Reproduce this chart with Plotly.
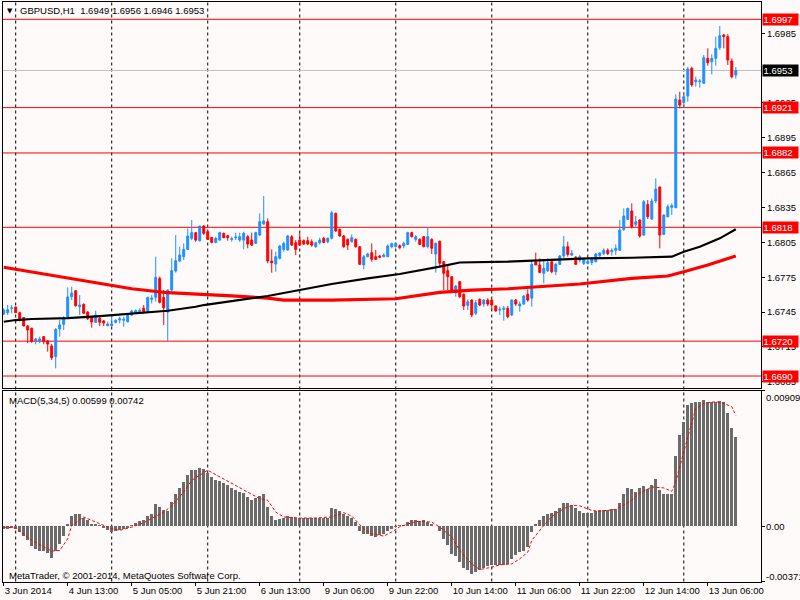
import plotly.graph_objects as go

# ---------------- data (GBPUSD H1, 3 Jun 21:00 .. 13 Jun 13:00) ----------------
opens = [1.67434,1.67445,1.67483,1.67494,1.67445,1.67403,1.67331,1.67311,1.67202,1.67202,
1.67239,1.67202,1.67158,1.67067,1.67305,1.67345,1.67402,1.67583,1.67634,1.67497,
1.67517,1.67450,1.67408,1.67362,1.67396,1.67374,1.67333,1.67333,1.67362,1.67382,
1.67379,1.67367,1.67425,1.67445,1.67450,1.67483,1.67454,1.67560,1.67577,1.67741,
1.67577,1.67450,1.67640,1.67804,1.67890,1.67927,1.67990,1.68085,1.68134,1.68065,
1.68191,1.68142,1.68093,1.68050,1.68070,1.68128,1.68108,1.68076,1.68091,1.68070,
1.68070,1.68099,1.68070,1.68042,1.68113,1.68208,1.68228,1.67890,1.67864,1.67913,
1.67990,1.67984,1.68099,1.68047,1.68070,1.68065,1.68065,1.68056,1.68013,1.68047,
1.68085,1.68056,1.68085,1.68300,1.68162,1.68105,1.68076,1.68056,1.68076,1.68013,
1.67856,1.67927,1.67962,1.67927,1.67933,1.67927,1.67927,1.68013,1.68013,1.68022,
1.68019,1.68033,1.68134,1.68076,1.68076,1.68099,1.68013,1.68076,1.67950,1.68060,
1.67884,1.67807,1.67755,1.67617,1.67712,1.67603,1.67508,1.67554,1.67440,1.67560,
1.67520,1.67554,1.67554,1.67503,1.67468,1.67474,1.67483,1.67425,1.67554,1.67503,
1.67520,1.67603,1.67569,1.67884,1.67856,1.67784,1.67804,1.67884,1.67798,1.67861,
1.67933,1.68013,1.67942,1.67922,1.67898,1.67870,1.67870,1.67878,1.67884,1.67936,
1.67953,1.67982,1.67970,1.67982,1.67982,1.68162,1.68248,1.68320,1.68205,1.68243,
1.68113,1.68377,1.68251,1.68406,1.68527,1.68119,1.68271,1.68352,1.68349,1.69275,
1.69255,1.69310,1.69548,1.69433,1.69433,1.69419,1.69634,1.69605,1.69634,1.69726,
1.69835,1.69821,1.69611,1.69490]

highs = [1.67483,1.67512,1.67512,1.67497,1.67454,1.67405,1.67339,1.67316,1.67230,1.67239,
1.67244,1.67210,1.67176,1.67311,1.67382,1.67416,1.67663,1.67669,1.67640,1.67597,
1.67525,1.67459,1.67411,1.67462,1.67416,1.67382,1.67368,1.67434,1.67390,1.67411,
1.67411,1.67434,1.67469,1.67473,1.67483,1.67512,1.67583,1.67597,1.67927,1.67755,
1.67640,1.67645,1.67913,1.68114,1.68013,1.68042,1.68171,1.68243,1.68134,1.68191,
1.68200,1.68162,1.68099,1.68099,1.68142,1.68134,1.68114,1.68099,1.68134,1.68134,
1.68142,1.68114,1.68134,1.68142,1.68300,1.68449,1.68257,1.67990,1.67970,1.68027,
1.68056,1.68114,1.68114,1.68070,1.68128,1.68076,1.68099,1.68076,1.68056,1.68091,
1.68099,1.68093,1.68323,1.68306,1.68171,1.68114,1.68085,1.68119,1.68085,1.68019,
1.67942,1.67962,1.68042,1.67985,1.67942,1.67956,1.68033,1.68048,1.68048,1.68033,
1.68056,1.68142,1.68142,1.68114,1.68085,1.68105,1.68180,1.68085,1.68048,1.68065,
1.67890,1.67856,1.67761,1.67683,1.67718,1.67612,1.67560,1.67560,1.67554,1.67569,
1.67560,1.67569,1.67560,1.67508,1.67497,1.67503,1.67503,1.67560,1.67563,1.67540,
1.67597,1.67646,1.67899,1.67962,1.67913,1.67899,1.67913,1.67904,1.67875,1.67942,
1.68105,1.68056,1.67985,1.67933,1.67941,1.67920,1.67900,1.67918,1.67959,1.67964,
1.67999,1.67999,1.67999,1.68033,1.68243,1.68343,1.68349,1.68386,1.68277,1.68248,
1.68415,1.68415,1.68429,1.68601,1.68529,1.68291,1.68377,1.68386,1.69324,1.69347,
1.69347,1.69562,1.69562,1.69476,1.69456,1.69663,1.69720,1.69668,1.69821,1.69912,
1.69843,1.69843,1.69634,1.69560]

lows = [1.67423,1.67425,1.67440,1.67443,1.67374,1.67328,1.67182,1.67187,1.67173,1.67182,
1.67173,1.67110,1.67038,1.66966,1.67239,1.67296,1.67396,1.67554,1.67497,1.67425,
1.67434,1.67382,1.67316,1.67359,1.67330,1.67330,1.67330,1.67330,1.67353,1.67353,
1.67324,1.67362,1.67416,1.67443,1.67434,1.67434,1.67445,1.67525,1.67540,1.67525,
1.67339,1.67201,1.67630,1.67790,1.67880,1.67898,1.67984,1.68070,1.68056,1.68056,
1.68114,1.68070,1.68042,1.68042,1.68065,1.68085,1.68065,1.68056,1.68070,1.68056,
1.67990,1.67999,1.68019,1.68036,1.68105,1.68200,1.67870,1.67789,1.67798,1.67904,
1.67970,1.67979,1.68019,1.67941,1.68019,1.68027,1.68027,1.68013,1.68004,1.68033,
1.68042,1.68042,1.68076,1.68142,1.68099,1.68004,1.67985,1.68048,1.68005,1.67856,
1.67818,1.67922,1.67884,1.67899,1.67913,1.67922,1.67927,1.67999,1.68008,1.67990,
1.67999,1.68028,1.68093,1.68056,1.68028,1.68008,1.67999,1.67950,1.67790,1.67841,
1.67640,1.67640,1.67632,1.67583,1.67569,1.67468,1.67468,1.67405,1.67425,1.67503,
1.67497,1.67503,1.67468,1.67454,1.67425,1.67376,1.67397,1.67417,1.67503,1.67454,
1.67511,1.67540,1.67497,1.67856,1.67784,1.67698,1.67798,1.67784,1.67769,1.67856,
1.67913,1.67927,1.67933,1.67856,1.67878,1.67855,1.67860,1.67855,1.67878,1.67918,
1.67941,1.67941,1.67936,1.67941,1.67976,1.68148,1.68243,1.68171,1.68185,1.68091,
1.68108,1.68251,1.68243,1.68386,1.67999,1.68113,1.68266,1.68286,1.68343,1.69204,
1.69209,1.69261,1.69390,1.69390,1.69382,1.69413,1.69571,1.69496,1.69571,1.69706,
1.69720,1.69577,1.69462,1.69460]

closes = [1.67469,1.67471,1.67486,1.67445,1.67377,1.67331,1.67296,1.67196,1.67219,1.67219,
1.67196,1.67176,1.67058,1.67302,1.67339,1.67402,1.67580,1.67614,1.67505,1.67512,
1.67440,1.67393,1.67365,1.67423,1.67362,1.67356,1.67347,1.67347,1.67379,1.67393,
1.67390,1.67428,1.67459,1.67462,1.67465,1.67454,1.67577,1.67571,1.67749,1.67534,
1.67488,1.67640,1.67807,1.67893,1.67941,1.67990,1.68105,1.68134,1.68070,1.68191,
1.68128,1.68076,1.68050,1.68085,1.68134,1.68091,1.68091,1.68082,1.68096,1.68099,
1.68128,1.68036,1.68027,1.68134,1.68228,1.68234,1.67890,1.67875,1.67927,1.68019,
1.68042,1.68105,1.68027,1.67990,1.68027,1.68036,1.68036,1.68027,1.68047,1.68070,
1.68050,1.68085,1.68306,1.68148,1.68105,1.68013,1.68028,1.68091,1.68013,1.67861,
1.67927,1.67950,1.67904,1.67904,1.67922,1.67942,1.68019,1.68039,1.68042,1.68005,
1.68042,1.68134,1.68099,1.68099,1.68033,1.68013,1.68099,1.67999,1.68042,1.67870,
1.67784,1.67755,1.67640,1.67674,1.67583,1.67503,1.67540,1.67425,1.67531,1.67511,
1.67554,1.67520,1.67511,1.67460,1.67474,1.67483,1.67411,1.67554,1.67520,1.67520,
1.67589,1.67554,1.67861,1.67856,1.67792,1.67827,1.67875,1.67798,1.67861,1.67933,
1.68013,1.67947,1.67956,1.67861,1.67927,1.67905,1.67884,1.67904,1.67950,1.67959,
1.67982,1.67953,1.67982,1.67999,1.68156,1.68277,1.68343,1.68185,1.68228,1.68105,
1.68400,1.68271,1.68406,1.68509,1.68113,1.68286,1.68357,1.68366,1.69284,1.69232,
1.69304,1.69542,1.69405,1.69448,1.69439,1.69640,1.69597,1.69634,1.69720,1.69829,
1.69821,1.69620,1.69476,1.69530]

# moving averages read at sample bars
ma_black_bars = [0,3,7,16,24,32,41,48,50,66,74,82,91,99,109,114,126,134,146,157,167,170,174,179,183]
ma_black_vals = [1.67367,1.67382,1.67391,1.67399,1.67416,1.67439,1.67462,1.67496,1.67511,1.67589,
                 1.67640,1.67692,1.67741,1.67778,1.67841,1.67877,1.67884,1.67896,1.67913,1.67918,
                 1.67927,1.67970,1.68013,1.68085,1.68163]
ma_red_bars = [0,7,16,24,32,41,49,57,66,70,82,95,98,109,117,126,134,144,157,166,170,176,183]
ma_red_vals = [1.67836,1.67795,1.67746,1.67698,1.67651,1.67617,1.67600,1.67589,1.67571,1.67554,
               1.67554,1.67560,1.67565,1.67620,1.67640,1.67651,1.67669,1.67692,1.67741,1.67761,
               1.67798,1.67855,1.67933]

# MACD(5,34,5) histogram, one value per bar (x 1e-5)
macd_main_e5 = [-18,-18,-13,-22,-40,-67,-96,-135,-157,-164,-168,-182,-215,-164,-123,-67,16,67,79,79,
56,38,16,11,4,-13,-29,-40,-34,-29,-22,-13,9,22,31,38,67,83,146,128,
105,99,162,218,256,296,346,375,375,393,386,359,330,312,301,289,274,258,240,229,
222,195,173,191,200,213,128,65,43,45,54,65,61,56,56,54,56,54,54,56,
56,56,123,112,101,79,65,56,27,-36,-52,-52,-67,-74,-63,-52,-34,-22,-7,4,
9,27,38,38,31,38,27,16,2,-36,-90,-130,-186,-202,-242,-283,-292,-321,-305,-294,
-283,-269,-260,-258,-258,-258,-254,-220,-193,-175,-164,-141,-40,16,38,65,83,90,99,121,
155,155,139,121,99,87,87,90,99,105,110,110,112,117,157,218,258,251,229,256,
267,251,274,314,245,218,218,218,469,610,700,812,823,830,830,846,835,830,830,839,
835,756,660,599]
macd_main = [v * 1e-5 for v in macd_main_e5]

signal_bars = [0,3,7,12,14,16,17,20,22,24,27,29,32,35,37,40,42,45,47,51,53,57,61,64,66,68,70,74,78,82,
               85,87,90,92,95,97,99,103,107,109,112,114,117,119,122,124,127,129,131,132,135,137,140,142,144,
               147,149,153,157,159,162,165,167,168,170,172,173,175,178,180,182,183]
signal_e5 = [-7,-13,-96,-168,-164,-85,4,61,38,16,-18,-29,-7,22,49,94,135,229,307,375,345,285,224,184,173,94,61,54,54,61,
             90,67,-18,-52,-67,-40,-5,31,27,-7,-74,-164,-254,-292,-276,-260,-254,-220,-175,-96,4,65,117,139,135,
             105,99,112,173,222,262,256,233,296,498,700,790,823,835,823,801,742]
signal_vals = [v * 1e-5 for v in signal_e5]

levels = [1.6997, 1.6921, 1.6882, 1.6818, 1.6720, 1.6690]
bid = 1.6953
price_ticks = [1.6985, 1.6925, 1.6895, 1.6865, 1.6835, 1.6805, 1.6775, 1.6745, 1.6715, 1.6685]
price_range = [1.66797, 1.70119]
macd_range = [-0.00372, 0.00909]
macd_labels = [(0.00909, "0.00909"), (0.0, "0.00"), (-0.00371, "-0.00371")]
label_bars = [0, 16, 32, 48, 64, 80, 96, 112, 128, 144, 160, 176]
tick_labels = ["3 Jun 2014", "4 Jun 13:00", "5 Jun 05:00", "5 Jun 21:00", "6 Jun 13:00", "9 Jun 06:00",
               "9 Jun 22:00", "10 Jun 14:00", "11 Jun 06:00", "11 Jun 22:00", "12 Jun 14:00", "13 Jun 06:00"]
day_start_bars = [3, 27, 51, 74, 98, 122, 146, 170]
title_text = "GBPUSD,H1\u00a0 1.6949 1.6956 1.6946 1.6953"
macd_text = "MACD(5,34,5) 0.00599 0.00742"
copyright_text = "MetaTrader, \u00a9 2001-2014, MetaQuotes Software Corp."

# ---------------- figure ----------------
W, H = 800, 600
FONT = "Liberation Sans, Arial, sans-serif"
FS = 9.5
BG = "#FFFAFA"
bars = list(range(len(closes)))

def px_x(p):
    return p / W

def px_y(p):
    return 1 - p / H

x_dom = [px_x(2.5), px_x(761)]
main_dom = [px_y(388), px_y(2)]
macd_dom = [px_y(581.5), px_y(390.6)]
x_range = [-0.3, 189.3]

fig = go.Figure()

fig.add_trace(go.Candlestick(
    x=bars, open=opens, high=highs, low=lows, close=closes,
    increasing=dict(line=dict(color="#1E90FF", width=1), fillcolor="#1E90FF"),
    decreasing=dict(line=dict(color="#FF0000", width=1), fillcolor="#FF0000"),
    whiskerwidth=0, showlegend=False, hoverinfo="skip", xaxis="x", yaxis="y"))

fig.add_trace(go.Scatter(x=ma_red_bars, y=ma_red_vals, mode="lines",
                         line=dict(color="#FF0000", width=3.2), showlegend=False,
                         hoverinfo="skip", xaxis="x", yaxis="y"))
fig.add_trace(go.Scatter(x=ma_black_bars, y=ma_black_vals, mode="lines",
                         line=dict(color="#000000", width=2.2), showlegend=False,
                         hoverinfo="skip", xaxis="x", yaxis="y"))

fig.add_trace(go.Bar(x=bars, y=macd_main, width=0.68, marker=dict(color="#6B6B6B", line=dict(width=0)),
                     showlegend=False, hoverinfo="skip", xaxis="x2", yaxis="y2"))
fig.add_trace(go.Scatter(x=signal_bars, y=signal_vals, mode="lines",
                         line=dict(color="#FF0000", width=1, dash="3px,2px"),
                         showlegend=False, hoverinfo="skip", xaxis="x2", yaxis="y2"))

shapes = []
for b in day_start_bars:
    shapes.append(dict(type="line", xref="x", yref="paper", x0=b, x1=b,
                       y0=macd_dom[0], y1=main_dom[1],
                       line=dict(color="#000000", width=1, dash="3px,3px"), layer="below"))
for lv in levels:
    shapes.append(dict(type="line", xref="x domain", yref="y", x0=0, x1=1, y0=lv, y1=lv,
                       line=dict(color="#FF0000", width=1), layer="below"))
shapes.append(dict(type="line", xref="x domain", yref="y", x0=0, x1=1, y0=bid, y1=bid,
                   line=dict(color="#C0C0C0", width=1), layer="below"))

annotations = []
for lv in levels:
    annotations.append(dict(xref="paper", yref="y", x=px_x(762), y=lv, xanchor="left", yanchor="middle",
                            text=f"{lv:.4f}", showarrow=False, bgcolor="#FF0000",
                            font=dict(family=FONT, size=FS, color="#FFFFFF"),
                            width=34, height=10, borderpad=0.5, align="left"))
annotations.append(dict(xref="paper", yref="y", x=px_x(762), y=bid, xanchor="left", yanchor="middle",
                        text=f"{bid:.4f}", showarrow=False, bgcolor="#000000",
                        font=dict(family=FONT, size=FS, color="#FFFFFF"),
                        width=34, height=10, borderpad=0.5, align="left"))
for val, txt in macd_labels:
    shift = -7 if val == macd_labels[0][0] else (5 if val == macd_labels[-1][0] else 0)
    annotations.append(dict(xref="paper", yref="y2", x=px_x(764), y=val, yshift=shift,
                            xanchor="left", yanchor="middle", text=txt, showarrow=False,
                            font=dict(family=FONT, size=FS, color="#000000")))
annotations.append(dict(xref="paper", yref="paper", x=px_x(18), y=px_y(11), xanchor="left", yanchor="middle",
                        text=title_text, showarrow=False, font=dict(family=FONT, size=FS, color="#000000")))
annotations.append(dict(xref="paper", yref="paper", x=px_x(9.5), y=px_y(11), xanchor="center", yanchor="middle",
                        text="\u25BC", showarrow=False, font=dict(family="DejaVu Sans", size=7, color="#000000")))
annotations.append(dict(xref="paper", yref="paper", x=px_x(7), y=px_y(400), xanchor="left", yanchor="middle",
                        text=macd_text, showarrow=False, font=dict(family=FONT, size=FS, color="#000000")))
annotations.append(dict(xref="paper", yref="paper", x=px_x(7), y=px_y(575), xanchor="left", yanchor="middle",
                        text=copyright_text, showarrow=False, font=dict(family=FONT, size=FS, color="#000000")))

axis_common = dict(showgrid=False, zeroline=False, showline=True, mirror=True,
                   linecolor="#000000", linewidth=1, automargin=False)

fig.update_layout(
    width=W, height=H, margin=dict(l=0, r=0, t=0, b=0, pad=0),
    paper_bgcolor=BG, plot_bgcolor=BG,
    font=dict(family=FONT, size=FS, color="#000000"),
    showlegend=False, boxgap=0.3, boxgroupgap=0.3, bargap=0,
    xaxis=dict(domain=x_dom, range=x_range, anchor="y", showticklabels=False, ticks="",
               rangeslider=dict(visible=False), fixedrange=True, **axis_common),
    yaxis=dict(domain=main_dom, range=price_range, anchor="x", side="right",
               tickvals=price_ticks, ticktext=[f"{t:.4f}" for t in price_ticks],
               ticks="outside", ticklen=3, tickcolor="#000000",
               tickfont=dict(family=FONT, size=FS, color="#000000"), **axis_common),
    xaxis2=dict(domain=x_dom, range=x_range, anchor="y2", tickvals=label_bars, ticktext=tick_labels,
                ticks="outside", ticklen=3, tickcolor="#000000", ticklabelposition="outside right",
                tickangle=0, tickfont=dict(family=FONT, size=FS, color="#000000"), **axis_common),
    yaxis2=dict(domain=macd_dom, range=macd_range, anchor="x2", side="right",
                tickvals=[v for v, _ in macd_labels], showticklabels=False,
                ticks="outside", ticklen=3, tickcolor="#000000", **axis_common),
    shapes=shapes, annotations=annotations,
)

fig.write_html("out.html", config={"displayModeBar": False, "staticPlot": True},
               post_script="document.body.style.margin='0';document.body.style.padding='0';"
                           "document.documentElement.style.overflow='hidden';")
